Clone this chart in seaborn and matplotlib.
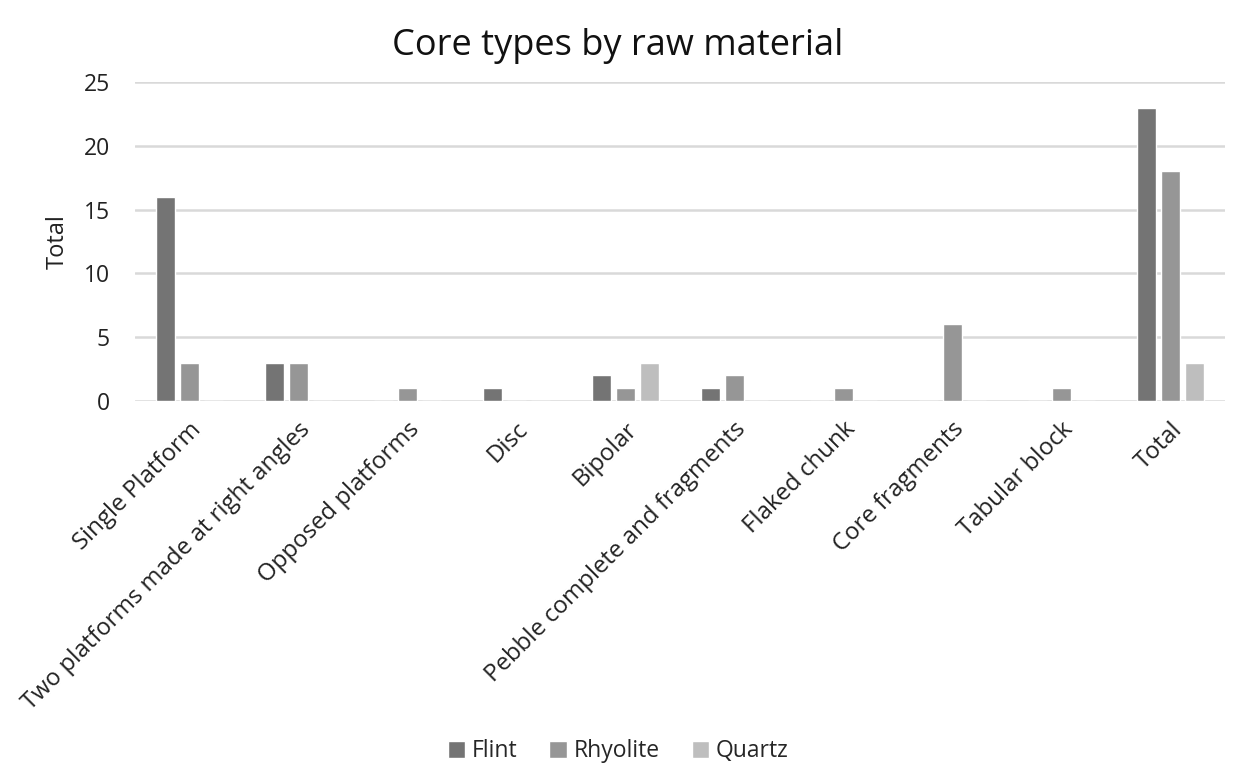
import matplotlib
matplotlib.use("Agg")
import matplotlib.pyplot as plt
import seaborn as sns
import pandas as pd

categories = ["Single Platform", "Two platforms made at right angles", "Opposed platforms",
              "Disc", "Bipolar", "Pebble complete and fragments", "Flaked chunk",
              "Core fragments", "Tabular block", "Total"]
flint = [16, 3, 0, 1, 2, 1, 0, 0, 0, 23]
rhyolite = [3, 3, 1, 0, 1, 2, 1, 6, 1, 18]
quartz = [0, 0, 0, 0, 3, 0, 0, 0, 0, 3]
series = ["Flint", "Rhyolite", "Quartz"]
colors = ["#747474", "#969696", "#bebebe"]

rows = []
for name, vals in zip(series, [flint, rhyolite, quartz]):
    for c, v in zip(categories, vals):
        rows.append({"Category": c, "Material": name, "Value": v})
df = pd.DataFrame(rows)

sns.set_theme(style="white")
plt.rcParams['font.family'] = ['Open Sans', 'DejaVu Sans']

fig = plt.figure(figsize=(12.36, 7.68), dpi=100)
ax = fig.add_axes([0.109, 0.478, 0.882, 0.415])
sns.barplot(data=df, x="Category", y="Value", hue="Material", order=categories,
            hue_order=series, palette=colors, width=0.66, gap=0.2, ax=ax,
            saturation=1, legend=True)

ax.set_ylim(0, 25)
ax.set_yticks([0, 5, 10, 15, 20, 25])
ax.yaxis.grid(True, color="#d9d9d9", linewidth=1.8)
ax.set_axisbelow(True)
for s in ax.spines.values():
    s.set_visible(False)
ax.set_xlabel("")
ax.set_ylabel("Total", fontsize=17, color="#222222", labelpad=10)
ax.tick_params(axis="y", labelsize=16.5, colors="#222222", length=0, pad=18)
ax.tick_params(axis="x", labelsize=17.3, colors="#222222", length=0, pad=12)
plt.setp(ax.get_xticklabels(), rotation=45, ha="right", rotation_mode="anchor")
fig.suptitle("Core types by raw material", fontsize=26, color="#111111", x=0.5, y=0.94,
             va="center")

handles, labels = ax.get_legend_handles_labels()
ax.legend_.remove()
fig.legend(handles, labels, loc="center", bbox_to_anchor=(0.5, 0.022), ncol=3,
           frameon=False, fontsize=16.5, handlelength=0.75, handleheight=0.75,
           columnspacing=1.4, handletextpad=0.3)

fig.savefig("out.png", dpi=100, facecolor="white")
